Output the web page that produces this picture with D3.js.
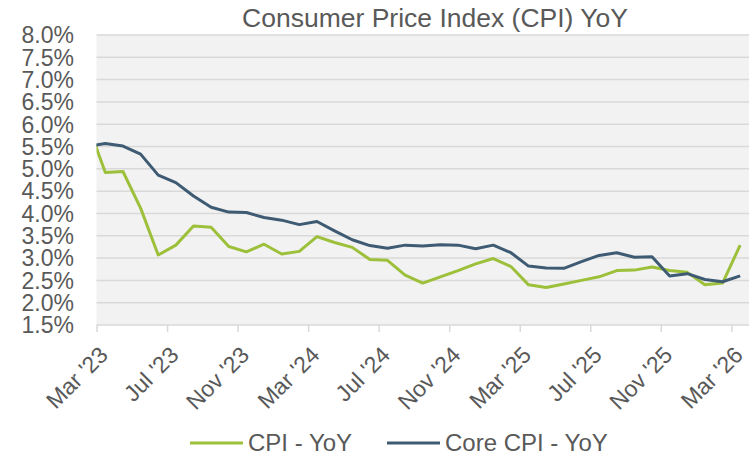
<!DOCTYPE html>
<html>
<head>
<meta charset="utf-8">
<script src="https://cdn.jsdelivr.net/npm/d3@7"></script>
<style>
  body { margin: 0; background: #fff; }
  text { font-family: "Liberation Sans", Arial, sans-serif; fill: #595959; }
</style>
</head>
<body>
<div id="chart"></div>
<script>
// months, Feb '23 .. Mar '26 (Feb '23 sits left of the axis and gets clipped)
var months = ["2023-02","2023-03","2023-04","2023-05","2023-06","2023-07","2023-08","2023-09","2023-10","2023-11","2023-12",
  "2024-01","2024-02","2024-03","2024-04","2024-05","2024-06","2024-07","2024-08","2024-09","2024-10","2024-11","2024-12",
  "2025-01","2025-02","2025-03","2025-04","2025-05","2025-06","2025-07","2025-08","2025-09","2025-10","2025-11","2025-12",
  "2026-01","2026-02","2026-03"];

var cpi = [6.0, 4.92, 4.94, 4.12, 3.07, 3.29, 3.72, 3.69, 3.26, 3.14, 3.31,
  3.09, 3.15, 3.48, 3.35, 3.24, 2.97, 2.95, 2.62, 2.44, 2.58, 2.72, 2.87,
  2.99, 2.81, 2.40, 2.34, 2.42, 2.50, 2.58, 2.72, 2.73, 2.80, 2.72, 2.68,
  2.40, 2.44, 3.29];

var core = [5.5, 5.57, 5.51, 5.33, 4.86, 4.69, 4.39, 4.14, 4.03, 4.02, 3.91,
  3.85, 3.75, 3.82, 3.61, 3.41, 3.28, 3.22, 3.29, 3.27, 3.30, 3.29, 3.21,
  3.29, 3.12, 2.82, 2.78, 2.77, 2.92, 3.06, 3.12, 3.02, 3.03, 2.60, 2.65,
  2.52, 2.47, 2.60];

var tickMonths = [0, 4, 8, 12, 16, 20, 24, 28, 32, 36];
var tickLabels = ["Mar '23","Jul '23","Nov '23","Mar '24","Jul '24","Nov '24","Mar '25","Jul '25","Nov '25","Mar '26"];
var yTicks = [1.5,2,2.5,3,3.5,4,4.5,5,5.5,6,6.5,7,7.5,8];

var series = [
  {name: "CPI - YoY", values: cpi, color: "#9dc03b"},
  {name: "Core CPI - YoY", values: core, color: "#3e5b73"}
];

var width = 750, height = 452;
var plot = {left: 96.5, right: 749, top: 35, bottom: 325};

// month offset from Mar 2023, point placed mid-month
function monthPos(s) {
  var p = s.split("-");
  return (+p[0] - 2023) * 12 + (+p[1] - 3) + 0.5;
}

var x = d3.scaleLinear().domain([0, 37]).range([plot.left, plot.right]);
var y = d3.scaleLinear().domain([1.5, 8]).range([plot.bottom, plot.top]);

var svg = d3.select("#chart").append("svg")
  .attr("width", width)
  .attr("height", height);

svg.append("defs").append("clipPath")
  .attr("id", "clip")
  .append("rect")
  .attr("x", plot.left)
  .attr("y", plot.top - 5)
  .attr("width", plot.right - plot.left)
  .attr("height", plot.bottom - plot.top + 10);

svg.append("rect")
  .attr("x", plot.left)
  .attr("y", plot.top)
  .attr("width", plot.right - plot.left)
  .attr("height", plot.bottom - plot.top)
  .attr("fill", "#f2f2f2");

// gridlines
svg.append("g")
  .selectAll("line")
  .data(yTicks)
  .enter().append("line")
  .attr("x1", plot.left)
  .attr("x2", plot.right)
  .attr("y1", function(d) { return y(d); })
  .attr("y2", function(d) { return y(d); })
  .attr("stroke", "#d9d9d9")
  .attr("stroke-width", 1.5);

// y labels
svg.append("g")
  .selectAll("text")
  .data(yTicks)
  .enter().append("text")
  .attr("x", 74)
  .attr("y", function(d) { return y(d); })
  .attr("dy", "0.36em")
  .attr("text-anchor", "end")
  .style("font-size", "23px")
  .text(function(d) { return d3.format(".1f")(d) + "%"; });

// x axis
var xAxis = d3.axisBottom(x)
  .tickValues(tickMonths)
  .tickSize(7)
  .tickFormat(function(d, i) { return tickLabels[i]; });

var xAxisG = svg.append("g")
  .attr("transform", "translate(0," + plot.bottom + ")")
  .call(xAxis);

xAxisG.select(".domain").remove();
xAxisG.selectAll(".tick line").attr("stroke", "#d9d9d9").attr("stroke-width", 1.5);
xAxisG.selectAll(".tick text")
  .attr("text-anchor", "end")
  .attr("transform", "translate(1,20) rotate(-45)")
  .attr("x", 0)
  .attr("y", 0)
  .attr("dy", "0.7em")
  .style("font-size", "23px")
  .style("fill", "#595959");

// lines
var line = d3.line()
  .x(function(d) { return x(monthPos(d.m)); })
  .y(function(d) { return y(d.v); });

svg.append("g")
  .attr("clip-path", "url(#clip)")
  .selectAll("path")
  .data(series)
  .enter().append("path")
  .attr("d", function(s) {
    return line(s.values.map(function(v, i) { return {m: months[i], v: v}; }));
  })
  .attr("fill", "none")
  .attr("stroke", function(s) { return s.color; })
  .attr("stroke-width", 3)
  .attr("stroke-linejoin", "round");

// title
svg.append("text")
  .attr("x", 435)
  .attr("y", 27)
  .attr("text-anchor", "middle")
  .style("font-size", "26.5px")
  .text("Consumer Price Index (CPI) YoY");

// legend
var legendX = [190, 387];
var legend = svg.append("g")
  .selectAll("g")
  .data(series)
  .enter().append("g")
  .attr("transform", function(d, i) { return "translate(" + legendX[i] + ",443)"; });

legend.append("line")
  .attr("x1", 0)
  .attr("x2", 53)
  .attr("stroke", function(d) { return d.color; })
  .attr("stroke-width", 3);

legend.append("text")
  .attr("x", 58)
  .attr("y", 0)
  .attr("dy", "0.34em")
  .style("font-size", "24px")
  .text(function(d) { return d.name; });
</script>
</body>
</html>
